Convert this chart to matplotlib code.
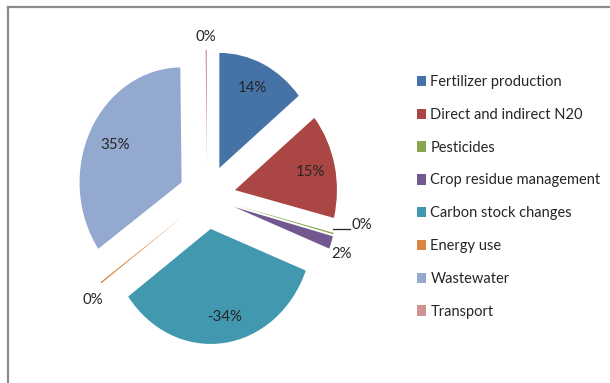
import matplotlib
matplotlib.use("Agg")
import matplotlib.pyplot as plt
from matplotlib.lines import Line2D
import numpy as np

plt.rcParams['font.family'] = ['Lato', 'DejaVu Sans']

# Emission sources and their shares (%); carbon stock change is a sink
categories = ["Fertilizer production", "Direct and indirect N20", "Pesticides",
              "Crop residue management", "Carbon stock changes", "Energy use",
              "Wastewater", "Transport"]
shares = [14.2, 14.7, 0.2, 1.8, -34.1, 0.2, 34.6, 0.2]
colors = ["#4572A7", "#AA4643", "#89A54E", "#71588F", "#4198AF", "#DB843D",
          "#93A9CF", "#D19392"]

# label placement: distance from pie centre and clockwise angle shift (deg)
label_radius = [1.046, 1.033, 1.54, 1.41, 1.058, 1.43, 1.009, 1.39]
label_shift = [-0.7, 0.3, -5.3, 2.4, -2.2, -3.1, -0.4, 0.0]
explode_dist = 0.28

fig = plt.figure(figsize=(6.10, 3.83), dpi=100)
ax = fig.add_axes([0.1220, 0.0953, 0.4348, 0.7807])

sizes = [abs(v) for v in shares]
wedges, _ = ax.pie(sizes, colors=colors, startangle=90, counterclock=False,
                   explode=[explode_dist] * len(sizes),
                   wedgeprops=dict(linewidth=0))
ax.set_aspect('auto')
ax.set_xlim(-1.3, 1.3)
ax.set_ylim(-1.3, 1.3)
ax.axis('off')

for w, v, r, d, name in zip(wedges, shares, label_radius, label_shift,
                            categories):
    mid = (w.theta1 + w.theta2) / 2
    a = np.deg2rad(mid - d)
    lx, ly = r * np.cos(a), r * np.sin(a)
    if name == "Pesticides":
        tip_x = 1.27 * np.cos(np.deg2rad(mid))
        ax.plot([tip_x, lx - 0.12], [ly - 0.035, ly - 0.035],
                color="#262626", lw=0.9, clip_on=False)
    ax.text(lx, ly, f"{v:.0f}%", ha='center', va='center', fontsize=10.8,
            color="#262626")

fig.legend(wedges, categories, loc='upper left',
           bbox_to_anchor=(417 / 610, 1 - 75 / 383), frameon=False,
           fontsize=10.5, handlelength=0.62, handleheight=0.72,
           handletextpad=0.3, labelspacing=1.29, borderpad=0,
           borderaxespad=0, labelcolor="#262626")

# chart frame edges
fig.add_artist(Line2D([7.5 / 610, 1], [1 - 6.5 / 383, 1 - 6.5 / 383],
                      color="#8c8c8c", lw=1.6, transform=fig.transFigure))
fig.add_artist(Line2D([7.5 / 610, 7.5 / 610], [0, 1 - 6.5 / 383],
                      color="#8c8c8c", lw=1.6, transform=fig.transFigure))

fig.savefig("out.png", dpi=100)
